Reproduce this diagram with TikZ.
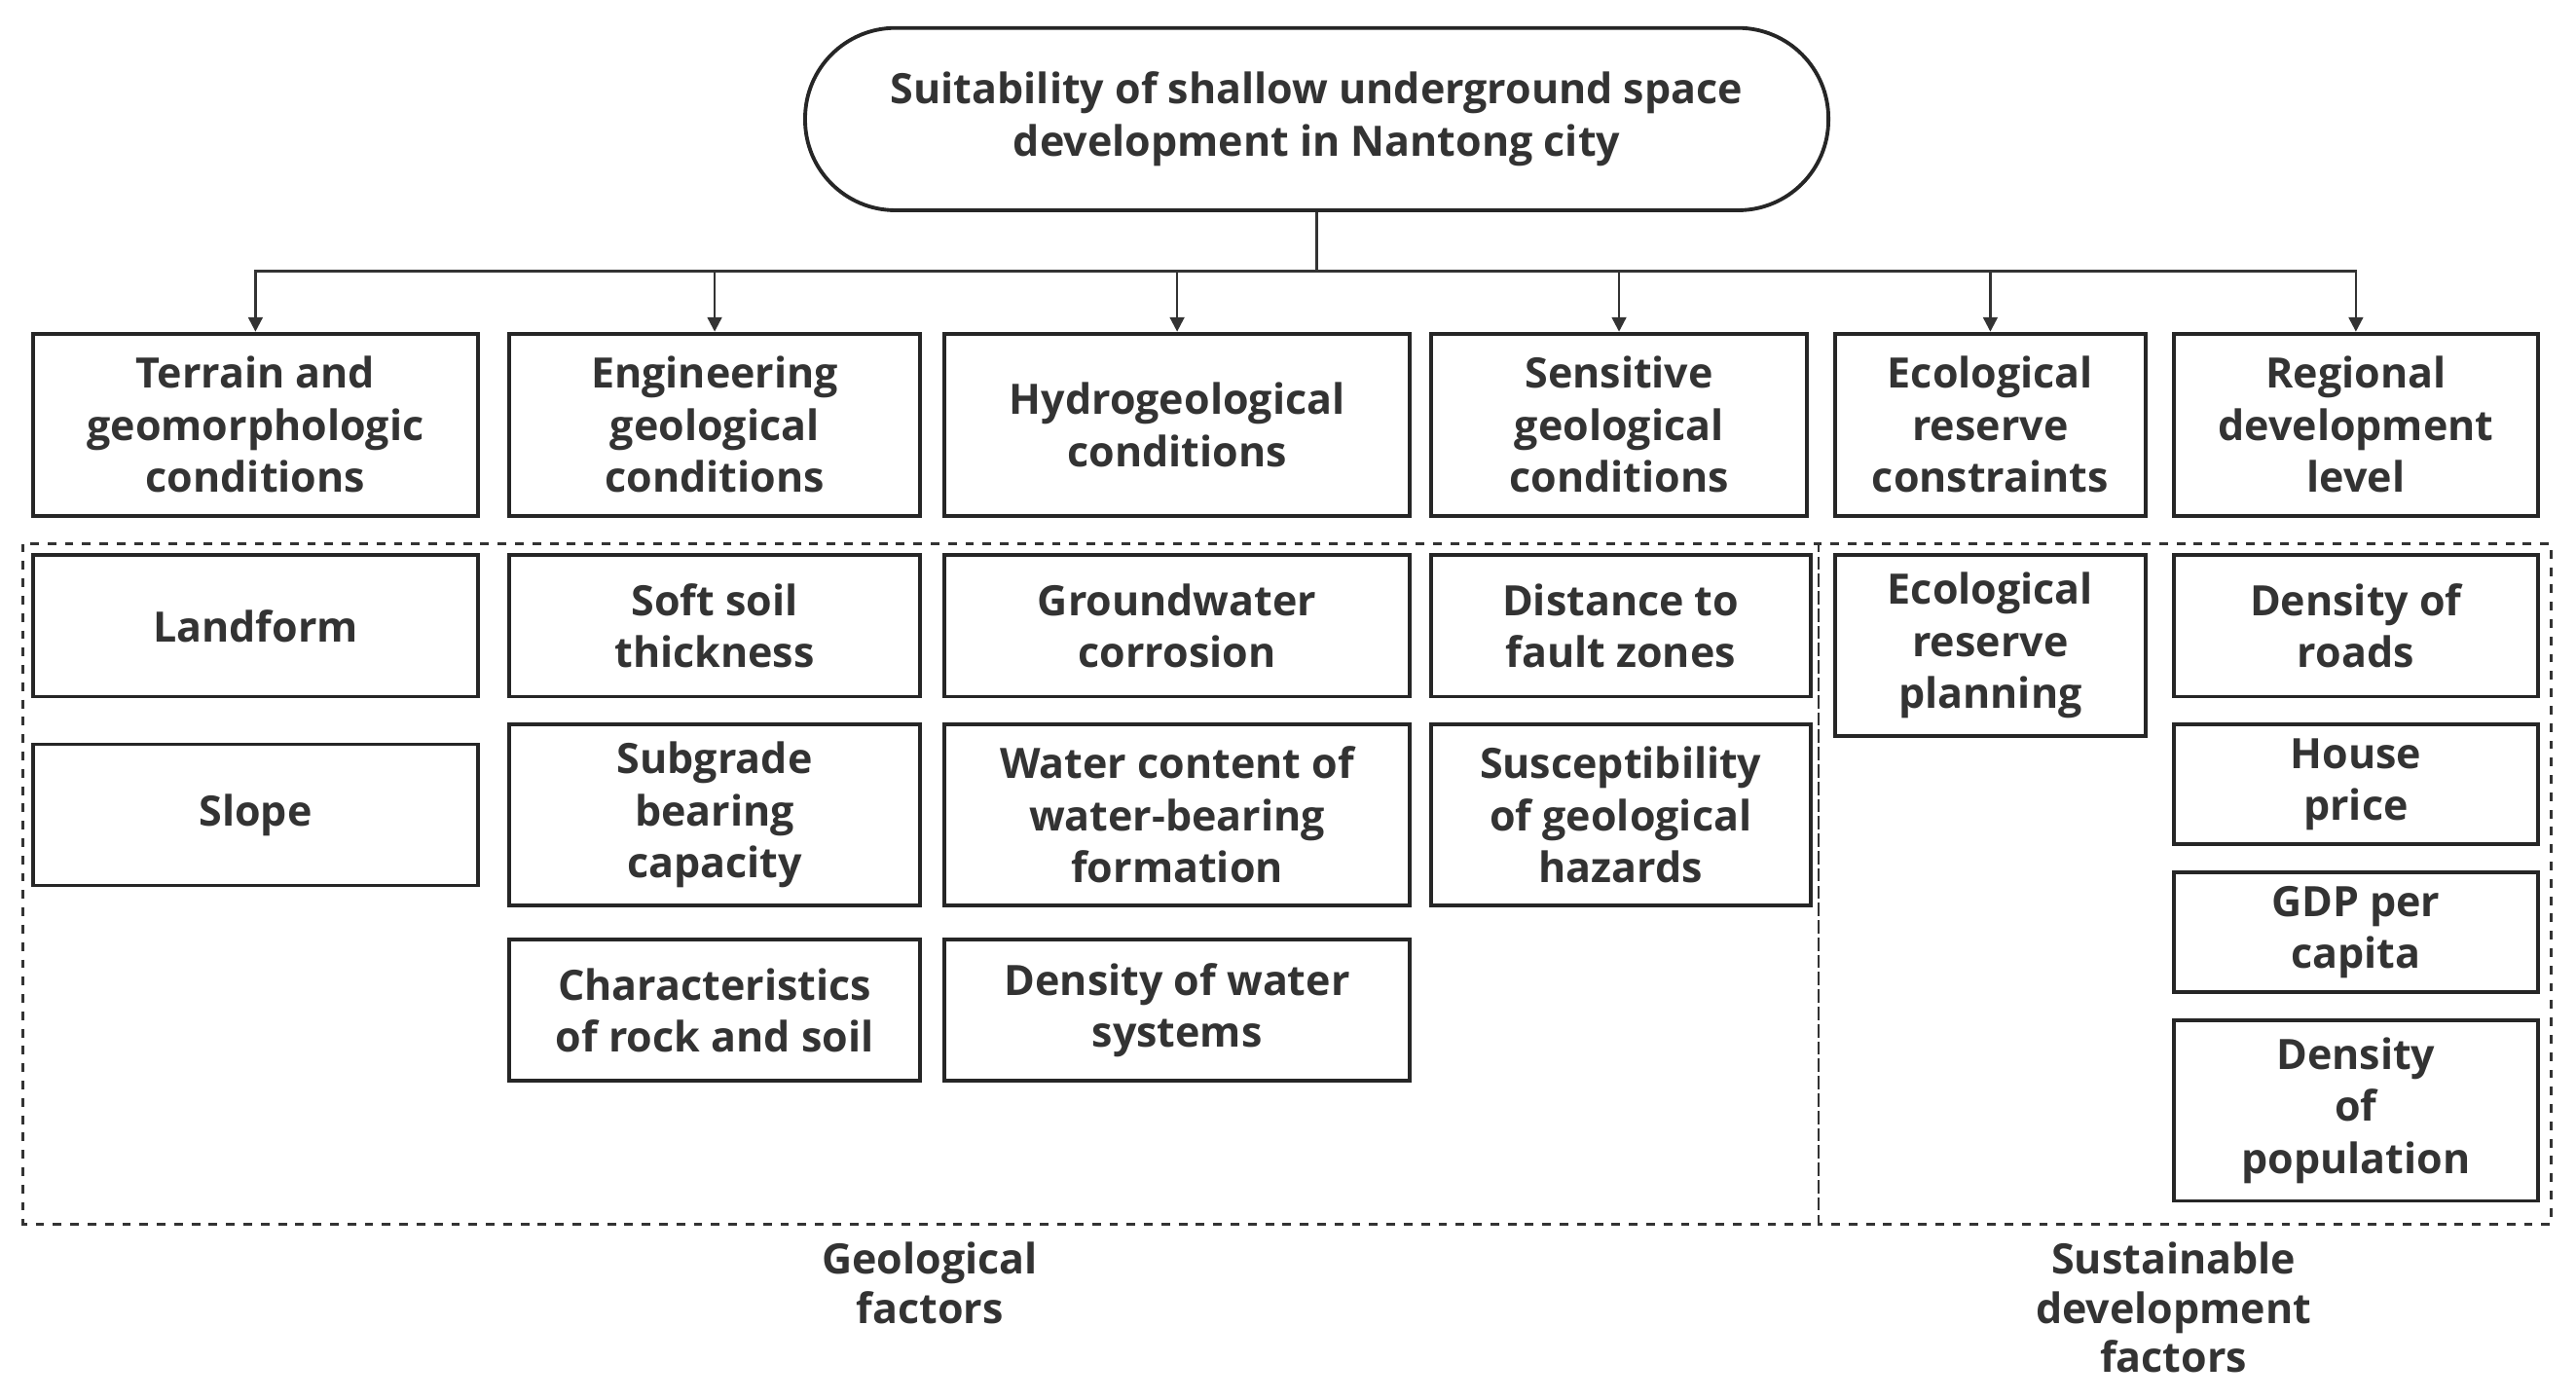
\documentclass[tikz,border=0pt]{standalone}
\usepackage{fontspec}
\setmainfont{Open Sans}
\usetikzlibrary{arrows.meta}
\begin{document}
\begin{tikzpicture}[x=0.02cm,y=-0.02cm,
  box/.style={draw=black!85, line width=1.3pt, align=center, inner sep=2pt,
    font=\fontsize{14.5}{18}\selectfont\bfseries, text=black!80},
  arr/.style={-{Triangle[length=5pt,width=5pt]}, line width=0.8pt, draw=black!80},
  grp/.style={draw=black!80, dashed, line width=0.9pt},
  lab/.style={align=center, font=\fontsize{14.5}{17}\selectfont\bfseries, text=black!80}]
\useasboundingbox (0,0) rectangle (1568,852);
\node[box, rounded corners=1.1cm, minimum width=12.46cm, minimum height=2.22cm] (top) at (801.5,72.5)
  {Suitability of shallow underground space\\development in Nantong city};
% first level
\node[box, minimum width=5.42cm, minimum height=2.22cm] (a) at (155.5,258.5) {Terrain and\\geomorphologic\\conditions};
\node[box, minimum width=5.0cm, minimum height=2.22cm] (b) at (435,258.5) {Engineering\\geological\\conditions};
\node[box, minimum width=5.66cm, minimum height=2.22cm] (c) at (716.5,258.5) {Hydrogeological\\conditions};
\node[box, minimum width=4.58cm, minimum height=2.22cm] (d) at (985.5,258.5) {Sensitive\\geological\\conditions};
\node[box, minimum width=3.78cm, minimum height=2.22cm] (e) at (1211.5,258.5) {Ecological\\reserve\\constraints};
\node[box, minimum width=4.44cm, minimum height=2.22cm] (f) at (1434,258.5) {Regional\\development\\level};
\coordinate (j) at (801.5,165);
\draw[line width=0.8pt, draw=black!80] (top.south) -- (j);
\foreach \n in {a,b,c,d,e,f} \draw[arr] (j) -| (\n.north);
% groups
\draw[grp] (14,331) rectangle (1107,745);
\draw[grp] (1107,331) rectangle (1553,745);
% indicators
\node[box, minimum width=5.42cm, minimum height=1.72cm] (a1) at (155.5,381) {Landform};
\node[box, minimum width=5.42cm, minimum height=1.72cm] (a2) at (155.5,496) {Slope};
\node[box, minimum width=5.0cm, minimum height=1.72cm] (b1) at (435,381) {Soft soil\\thickness};
\node[box, minimum width=5.0cm, minimum height=2.2cm] (b2) at (435,496) {Subgrade\\bearing\\capacity};
\node[box, minimum width=5.0cm, minimum height=1.72cm] (b3) at (435,615) {Characteristics\\of rock and soil};
\node[box, minimum width=5.66cm, minimum height=1.72cm] (c1) at (716.5,381) {Groundwater\\corrosion};
\node[box, minimum width=5.66cm, minimum height=2.2cm] (c2) at (716.5,496) {Water content of\\water-bearing\\formation};
\node[box, minimum width=5.66cm, minimum height=1.72cm] (c3) at (716.5,615) {Density of water\\systems};
\node[box, minimum width=4.62cm, minimum height=1.72cm] (d1) at (986.5,381) {Distance to\\fault zones};
\node[box, minimum width=4.62cm, minimum height=2.2cm] (d2) at (986.5,496) {Susceptibility\\of geological\\hazards};
\node[box, minimum width=3.78cm, minimum height=2.2cm] (e1) at (1211.5,393) {Ecological\\reserve\\planning};
\node[box, minimum width=4.44cm, minimum height=1.72cm] (f1) at (1434,381) {Density of\\roads};
\node[box, minimum width=4.44cm, minimum height=1.46cm] (f2) at (1434,477.5) {House\\price};
\node[box, minimum width=4.44cm, minimum height=1.46cm] (f3) at (1434,567.5) {GDP per\\capita};
\node[box, minimum width=4.44cm, minimum height=2.2cm] (f4) at (1434,676) {Density\\of\\population};
% group labels
\node[lab] (g1) at (566,781) {Geological\\factors};
\node[lab] (g2) at (1323,796) {Sustainable\\development\\factors};
\end{tikzpicture}
\end{document}
